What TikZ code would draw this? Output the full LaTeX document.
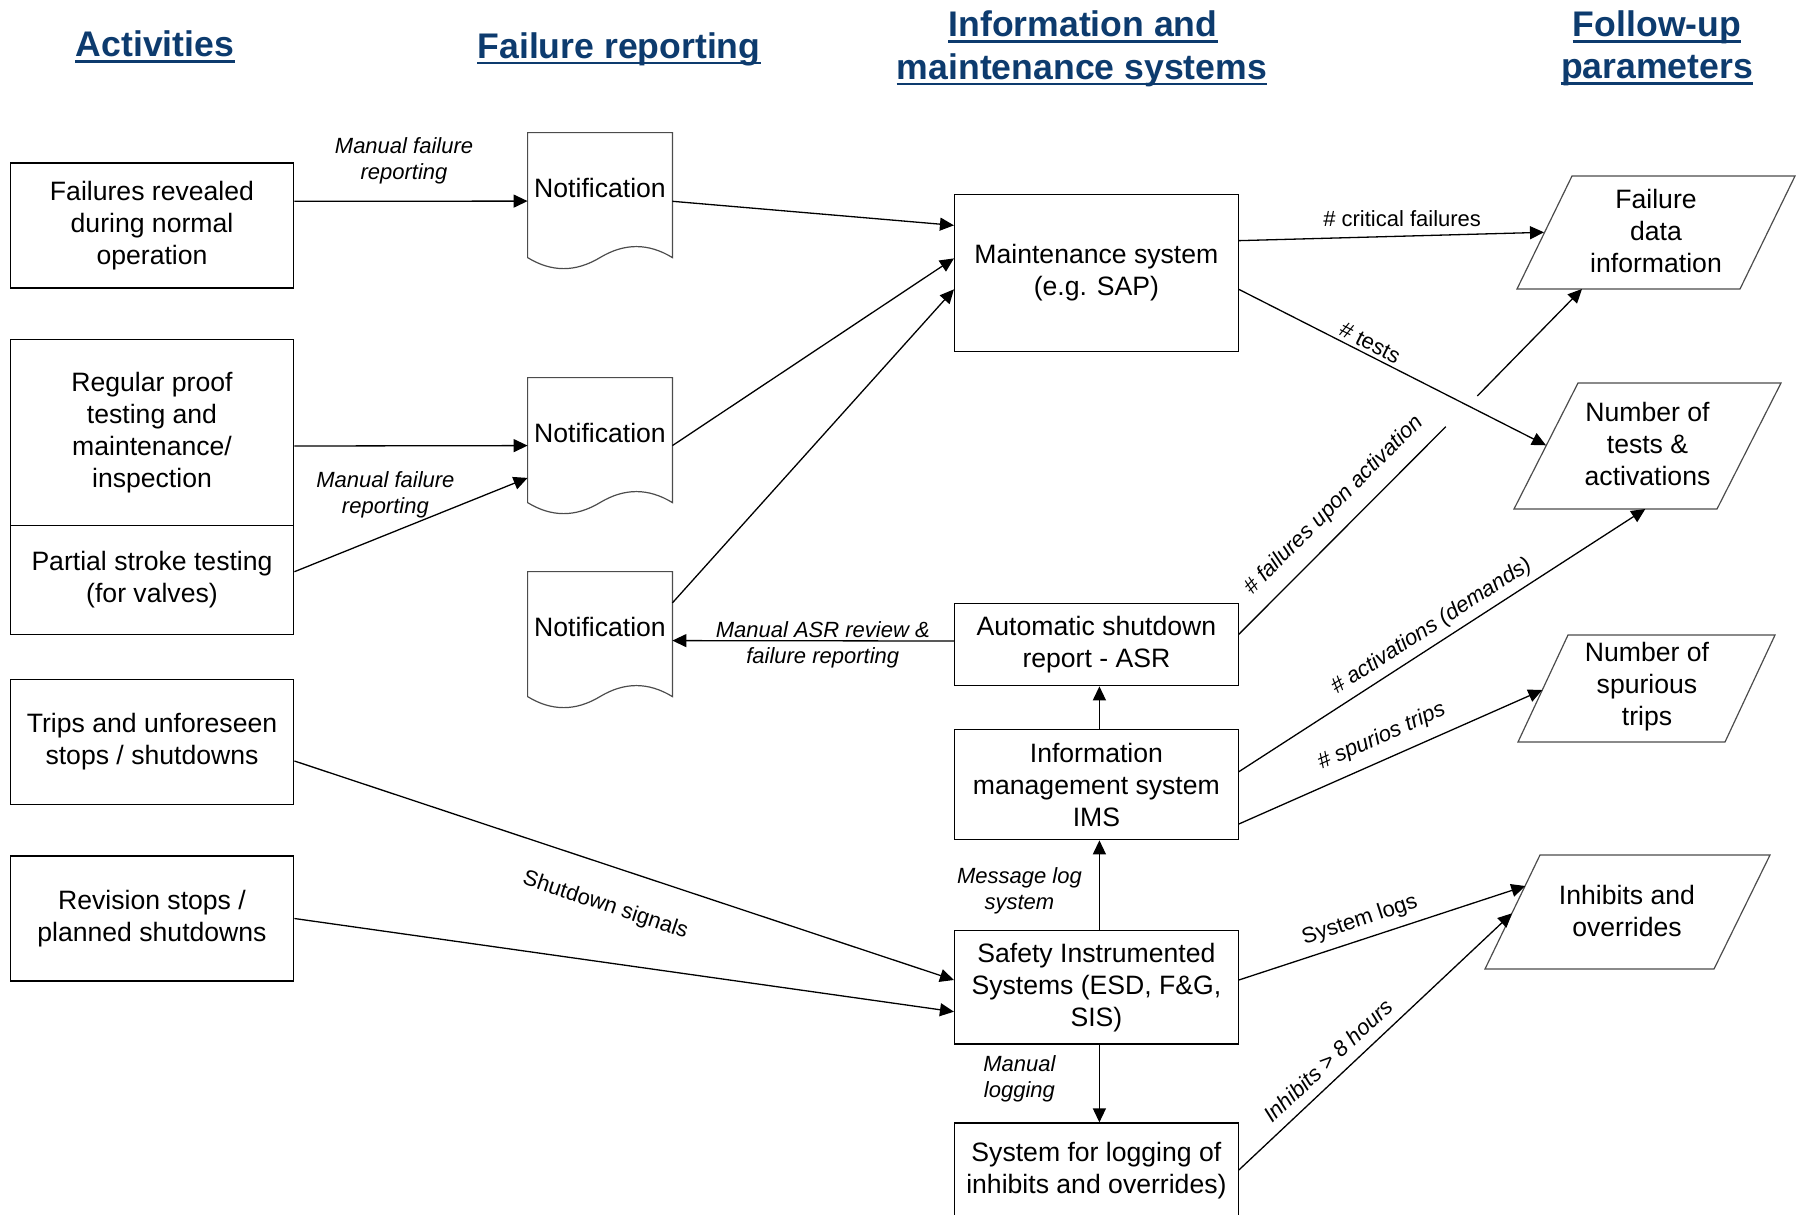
\documentclass[tikz,border=0pt]{standalone}
\usepackage{fontspec}
\setmainfont{Liberation Sans}
\usetikzlibrary{arrows.meta,calc}
\definecolor{hdrblue}{HTML}{0D3B6E}
\newcommand\mydocshape[1]{%
  \draw[docline] (#1.north west) -- (#1.north east) -- ($(#1.north east)+(0,125)$)
    .. controls ($(#1.north east)+(-24,110.3)$) and ($(#1.north east)+(-48,110.3)$) .. ($(#1.north)+(0,125)$)
    .. controls ($(#1.north west)+(48,139.7)$) and ($(#1.north west)+(24,139.7)$) .. ($(#1.north west)+(0,125)$)
    -- cycle;}
\begin{document}
\begin{tikzpicture}[x=0.5pt,y=-0.5pt,
  box/.style={draw=black, line width=0.65pt, align=center, font=\fontsize{13.3}{16}\selectfont, inner sep=0pt, minimum width=141.8pt},
  pgram/.style={draw=black!70, line width=0.6pt},
  docline/.style={draw=black!70, line width=0.6pt},
  ptext/.style={align=center, font=\fontsize{13.3}{16}\selectfont, inner sep=0pt},
  hdrtxt/.style={font=\bfseries\fontsize{17.8}{21}\selectfont, text=hdrblue, inner sep=0pt, anchor=base},
  uline/.style={draw=hdrblue, line width=1.2pt},
  arr/.style={-{Triangle[length=7pt,width=6.5pt]}, line width=0.65pt},
  ln/.style={line width=0.65pt},
  lbl/.style={font=\itshape\fontsize{11}{13}\selectfont, align=center, inner sep=0pt},
  slbl/.style={font=\fontsize{11}{13}\selectfont, inner sep=0pt, text height=8pt, text depth=2.3pt},
  islbl/.style={slbl, font=\itshape\fontsize{11}{13}\selectfont},
]
\useasboundingbox (0,0) rectangle (1799,1215);
\clip (0,0) rectangle (1799,1215);

% headers
\node[hdrtxt] (h1) at (155,56.5) {Activities};
\node[hdrtxt] (h2) at (619,58) {Failure reporting};
\node[hdrtxt] (h3) at (1083,36.5) {Information and};
\node[hdrtxt] (h4) at (1082,79) {maintenance systems};
\node[hdrtxt] (h5) at (1657,36.5) {Follow-up};
\node[hdrtxt] (h6) at (1657,78.5) {parameters};
\foreach \h in {h1,h2,h3,h4,h5,h6}{
  \draw[uline] ($(\h.base west)+(0,5)$) -- ($(\h.base east)+(0,5)$);
}

% activities
\node[box, minimum height=62.5pt] (b1) at (152,225.5) {Failures revealed\\during normal\\operation};
\node[box, minimum height=93pt] (b2) at (152,432.5) {Regular proof\\testing and\\maintenance/\\inspection};
\node[box, minimum height=54.5pt] (b3) at (152,580) {Partial stroke testing\\(for valves)};
\node[box, minimum height=62.5pt] (b4) at (152,741.7) {Trips and unforeseen\\stops / shutdowns};
\node[box, minimum height=62.5pt] (b5) at (152,918.5) {Revision stops /\\planned shutdowns};

% notifications
\node[ptext, minimum width=72pt, minimum height=55pt] (d1) at (600,188) {Notification};
\node[ptext, minimum width=72pt, minimum height=55pt] (d2) at (600,433) {Notification};
\node[ptext, minimum width=72pt, minimum height=55pt] (d3) at (600,627) {Notification};
\mydocshape{d1}
\mydocshape{d2}
\mydocshape{d3}

% systems
\node[box, minimum height=78.5pt] (ms) at (1096.4,273) {Maintenance system\\(e.g. SAP)};
\node[box, minimum height=41.2pt] (asr) at (1096.4,644.5) {Automatic shutdown\\report - ASR};
\node[box, minimum height=55.2pt] (ims) at (1096.4,784.5) {Information\\management system\\IMS};
\node[box, minimum height=56.7pt] (sis) at (1096.4,987.4) {Safety Instrumented\\Systems (ESD, F\&G,\\SIS)};
\node[box, minimum height=48pt] (lg) at (1096.4,1171) {System for logging of\\inhibits and overrides)};

% follow-up parameters
\coordinate (fd1) at (1572,176); \coordinate (fd2) at (1795,176);
\coordinate (fd3) at (1740,289); \coordinate (fd4) at (1517,289);
\draw[pgram] (fd1) -- (fd2) -- (fd3) -- (fd4) -- cycle;
\node[ptext] (fd) at (1656,231) {Failure\\data\\information};

\coordinate (nt1) at (1578,383); \coordinate (nt2) at (1781,383);
\coordinate (nt3) at (1717,509); \coordinate (nt4) at (1514,509);
\draw[pgram] (nt1) -- (nt2) -- (nt3) -- (nt4) -- cycle;
\node[ptext] (nt) at (1647.5,444) {Number of\\tests \&\\activations};

\coordinate (sp1) at (1568,635); \coordinate (sp2) at (1775,635);
\coordinate (sp3) at (1725,742); \coordinate (sp4) at (1518,742);
\draw[pgram] (sp1) -- (sp2) -- (sp3) -- (sp4) -- cycle;
\node[ptext] (sp) at (1647,687) {Number of\\spurious\\trips};

\coordinate (io1) at (1540,855); \coordinate (io2) at (1770,855);
\coordinate (io3) at (1714,969); \coordinate (io4) at (1485,969);
\draw[pgram] (io1) -- (io2) -- (io3) -- (io4) -- cycle;
\node[ptext] (io) at (1627,911) {Inhibits and\\overrides};

% connector end points on the parallelograms
\coordinate (fdin) at (1544,232.3);
\coordinate (fdbot) at (1582,289);
\coordinate (ntin) at (1546,445.3);
\coordinate (ntbot) at (1645.3,509);
\coordinate (spin) at (1542.3,690);
\coordinate (ioin1) at (1525.3,886);
\coordinate (ioin2) at (1512,913.3);
\coordinate (free1) at (1477.3,396);
\coordinate (free2) at (1445.8,426.7);

% connectors: activities -> notifications
\draw[arr] ($(b1.east)+(0,-24.2)$) -- node[lbl, pos=0.47, yshift=20pt]{Manual failure\\reporting} ($(d1.north west)+(0,68.5)$);
\draw[arr] ($(b2.east)+(0,13.5)$) -- ($(d2.north west)+(0,68)$);
\draw[arr] ($(b3.east)+(0,-8.3)$) -- node[lbl, pos=0.39, yshift=20.4pt]{Manual failure\\reporting} ($(d2.north west)+(0,100.3)$);

% notifications -> maintenance system
\draw[arr] ($(d1.north east)+(0,68.7)$) -- ($(ms.north west)+(0,31.5)$);
\draw[arr] ($(d2.north east)+(0,68)$) -- ($(ms.north west)+(0,64.5)$);
\draw[arr] ($(d3.north east)+(0,31.3)$) -- ($(ms.north west)+(0,95.5)$);

% ASR -> notification
\draw[arr] ($(asr.west)+(0,-3.5)$) -- node[lbl, pos=0.466, yshift=-2.2pt]{Manual ASR review \&\\failure reporting} ($(d3.north east)+(0,69)$);

% maintenance system -> parameters
\draw[arr] ($(ms.north east)+(0,46.8)$) -- node[slbl, pos=0.535, above=2pt]{\# critical failures} (fdin);
\draw[arr] ($(ms.north east)+(0,95.5)$) -- node[slbl, sloped, pos=0.41, above=-0.5pt]{\# tests} (ntin);
\draw[arr] (free1) -- (fdbot);
\draw[ln] ($(asr.east)+(0,-10.2)$) -- node[islbl, sloped, pos=0.54, above=6.3pt]{\# failures upon activation} (free2);

% IMS
\draw[arr] ($(ims.east)+(0,-12.8)$) -- node[islbl, sloped, pos=0.497, above=3.1pt]{\# activations (demands)} (ntbot);
\draw[arr] ($(ims.east)+(0,39.5)$) -- node[islbl, sloped, pos=0.5, above=5.5pt]{\# spurios trips} (spin);
\draw[arr] ($(ims.north)+(3,0)$) -- ($(asr.south)+(3,0)$);

% SIS
\draw[arr] ($(sis.north)+(3,0)$) -- node[lbl, pos=0.46, xshift=-40pt, yshift=-1.2pt]{Message log\\system} ($(ims.south)+(3,0)$);
\draw[arr] ($(sis.south)+(3,0)$) -- node[lbl, pos=0.42, xshift=-40pt, yshift=-0.8pt]{Manual\\logging} ($(lg.north)+(3,0)$);
\draw[arr] ($(sis.east)+(0,-7.4)$) -- node[slbl, sloped, pos=0.443, above=4pt]{System logs} (ioin1);
\draw[arr] ($(lg.east)+(0,-1)$) -- node[islbl, sloped, pos=0.374, above=2.7pt]{Inhibits > 8 hours} (ioin2);

% shutdowns -> SIS
\draw[arr] ($(b4.east)+(0,19.3)$) -- node[slbl, sloped, pos=0.49, below=14.2pt]{Shutdown signals} ($(sis.west)+(0,-7.4)$);
\draw[arr] (b5.east) -- ($(sis.west)+(0,24.3)$);
\end{tikzpicture}
\end{document}
